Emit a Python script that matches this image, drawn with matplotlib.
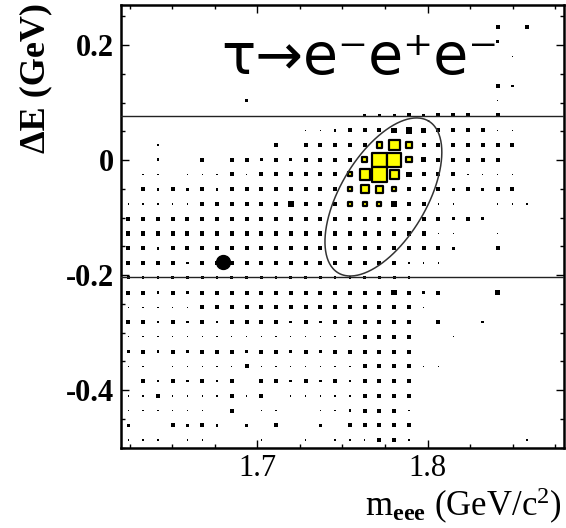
import numpy as np
import matplotlib
matplotlib.use("Agg")
import matplotlib.pyplot as plt
from matplotlib.patches import Rectangle
from matplotlib.collections import PatchCollection
from matplotlib.ticker import FixedLocator, MultipleLocator

plt.rcParams['mathtext.fontset'] = 'custom'
plt.rcParams['mathtext.rm'] = 'Liberation Serif'
plt.rcParams['mathtext.it'] = 'Liberation Serif:italic'
plt.rcParams['mathtext.bf'] = 'Liberation Serif:bold'

# histogram binning: m_eee (x) and dE (y)
x_lo, x_hi, nx = 1.62, 1.88, 30
y_lo, y_hi, ny = -0.50, 0.27, 30

# background MC box contents, one string per dE row, top row first
bkg_rows = [
    "000000000000000000000000000000",
    "000000000000000000000000030300",
    "000000000000000000000000020000",
    "000000000000000000000000001000",
    "000000000000000000000000000000",
    "000000000000000000000000032000",
    "000000002000000000000000010000",
    "000000000000000022232333030000",
    "000000000000112333454333311000",
    "001000000030333333333333333000",
    "002003033232333333334333330000",
    "011011131333333333343331111000",
    "032323233333333333333323233000",
    "11111" "333333" "4" "333333" "4" "33" "11" "00" "111" "00",
    "3333333333333333333333" "232" "00000",
    "333333333333333333333" "11" "00" "1" "0000",
    "332" "3333333333333333333" "2" "00" "3" "0000",
    "3333" "2" "33333333333333" "111" "00000000",
    "22222222222222222222" "001" "0000000",
    "33232" "3333333333333" "4" "3" "2" "3" "000" "4" "0000",
    "11111" "333333333333333" "1" "000000000",
    "3323232" "3333" "2" "3" "2" "333333" "0" "3" "00" "2" "00000",
    "1111111111111111" "3333" "00" "1" "0000000",
    "23232333233232" "333333" "0000000000",
    "110" "11111" "3" "1111111" "3333" "11" "00000000",
    "0323232303323232" "3333" "0000000000",
    "1131111313011111" "3333" "0000000000",
    "1111110301100112" "3331" "0000000000",
    "200323202030020" "33333" "0000000000",
    "11101100010010" "211332" "0000000100",
]

# signal MC boxes (row from top, column, content)
sig_row = [9, 9, 9, 10, 10, 10, 10, 11, 11, 11, 11, 12, 12, 12, 12, 13, 13, 13]
sig_col = [17, 18, 19, 16, 17, 18, 19, 15, 16, 17, 18, 15, 16, 17, 18, 15, 16, 17]
sig_n = [9, 19, 11, 9, 25, 25, 9, 7, 18, 25, 16, 7, 14, 12, 8, 7, 7, 7]

# the single data event
data_x = [1.6798]
data_y = [-0.1774]

# dE band lines and the signal ellipse (centre + conjugate half-diameters)
band_y = [0.077, -0.203]
ell_center = (1.7740, -0.0643)
ell_u = (0.02656, 0.1320)
ell_v = (-0.0217, 0.0384)

x_ticks = [1.7, 1.8]
x_ticklabels = ["1.7", "1.8"]
y_ticks = [-0.4, -0.2, 0.0, 0.2]
y_ticklabels = ["-0.4", "-0.2", "0", "0.2"]

bkg = np.array([[int(ch) for ch in row] for row in bkg_rows], dtype=float)
assert bkg.shape == (ny, nx)

dx = (x_hi - x_lo) / nx
dy = (y_hi - y_lo) / ny
xc = x_lo + (np.arange(nx) + 0.5) * dx
yc = y_hi - (np.arange(ny) + 0.5) * dy

fig = plt.figure(figsize=(5.66, 5.28), dpi=100)
ax = fig.add_axes([121 / 566, 1 - 447.5 / 528, 443 / 566, 442.75 / 528])

# background boxes
bkg_max = 11.0
boxes = []
for r in range(ny):
    for c in range(nx):
        n = bkg[r, c]
        if n <= 0:
            continue
        w = n / bkg_max * dx
        h = n / bkg_max * dy
        boxes.append(Rectangle((xc[c] - w / 2, yc[r] - h / 2), w, h))
ax.add_collection(PatchCollection(boxes, facecolor='black', edgecolor='none', zorder=2))

# signal boxes
sig_max = 26.0
sboxes = []
for r, c, n in zip(sig_row, sig_col, sig_n):
    w = n / sig_max * dx
    h = n / sig_max * dy
    sboxes.append(Rectangle((xc[c] - w / 2, yc[r] - h / 2), w, h))
ax.add_collection(PatchCollection(sboxes, facecolor='#ffff00', edgecolor='black',
                                  linewidth=1.6, zorder=3))

for yb in band_y:
    ax.axhline(yb, color='#222222', lw=1.0, zorder=4)

t = np.linspace(0, 2 * np.pi, 300)
ex = ell_center[0] + ell_u[0] * np.cos(t) + ell_v[0] * np.sin(t)
ey = ell_center[1] + ell_u[1] * np.cos(t) + ell_v[1] * np.sin(t)
ax.plot(ex, ey, color='#333333', lw=1.1, zorder=4)

ax.plot(data_x, data_y, 'o', color='black', markersize=10, zorder=5)

ax.text(0.54, 0.878, "τ→e⁻e⁺e⁻", transform=ax.transAxes, ha='center', va='center',
        fontsize=41, family='DejaVu Sans')

ax.set_xlim(x_lo, x_hi)
ax.set_ylim(y_lo, y_hi)

ax.xaxis.set_major_locator(FixedLocator(x_ticks))
ax.set_xticklabels(x_ticklabels, family='Liberation Serif', fontsize=22)
ax.xaxis.set_minor_locator(MultipleLocator(0.025))
ax.yaxis.set_major_locator(FixedLocator(y_ticks))
ax.set_yticklabels(y_ticklabels, family='Liberation Serif', fontsize=22, fontweight='bold')
ax.yaxis.set_minor_locator(MultipleLocator(0.05))
ax.tick_params(which='both', direction='in', top=True, right=True, width=1.0)
ax.tick_params(which='major', length=6, pad=5)
ax.tick_params(which='minor', length=3)

for s in ax.spines.values():
    s.set_linewidth(1.8)

ax.set_xlabel(r"m$_{\mathbf{eee}}$ (GeV/c$^{2}$)", family='Liberation Serif', fontsize=25, loc='right')
ax.xaxis.set_label_coords(0.995, -0.086)
ax.set_ylabel("ΔE (GeV)", family='Liberation Serif', fontsize=26, fontweight='bold', loc='top')
ax.yaxis.set_label_coords(-0.155, 1.005)

fig.savefig("out.png", dpi=100)
